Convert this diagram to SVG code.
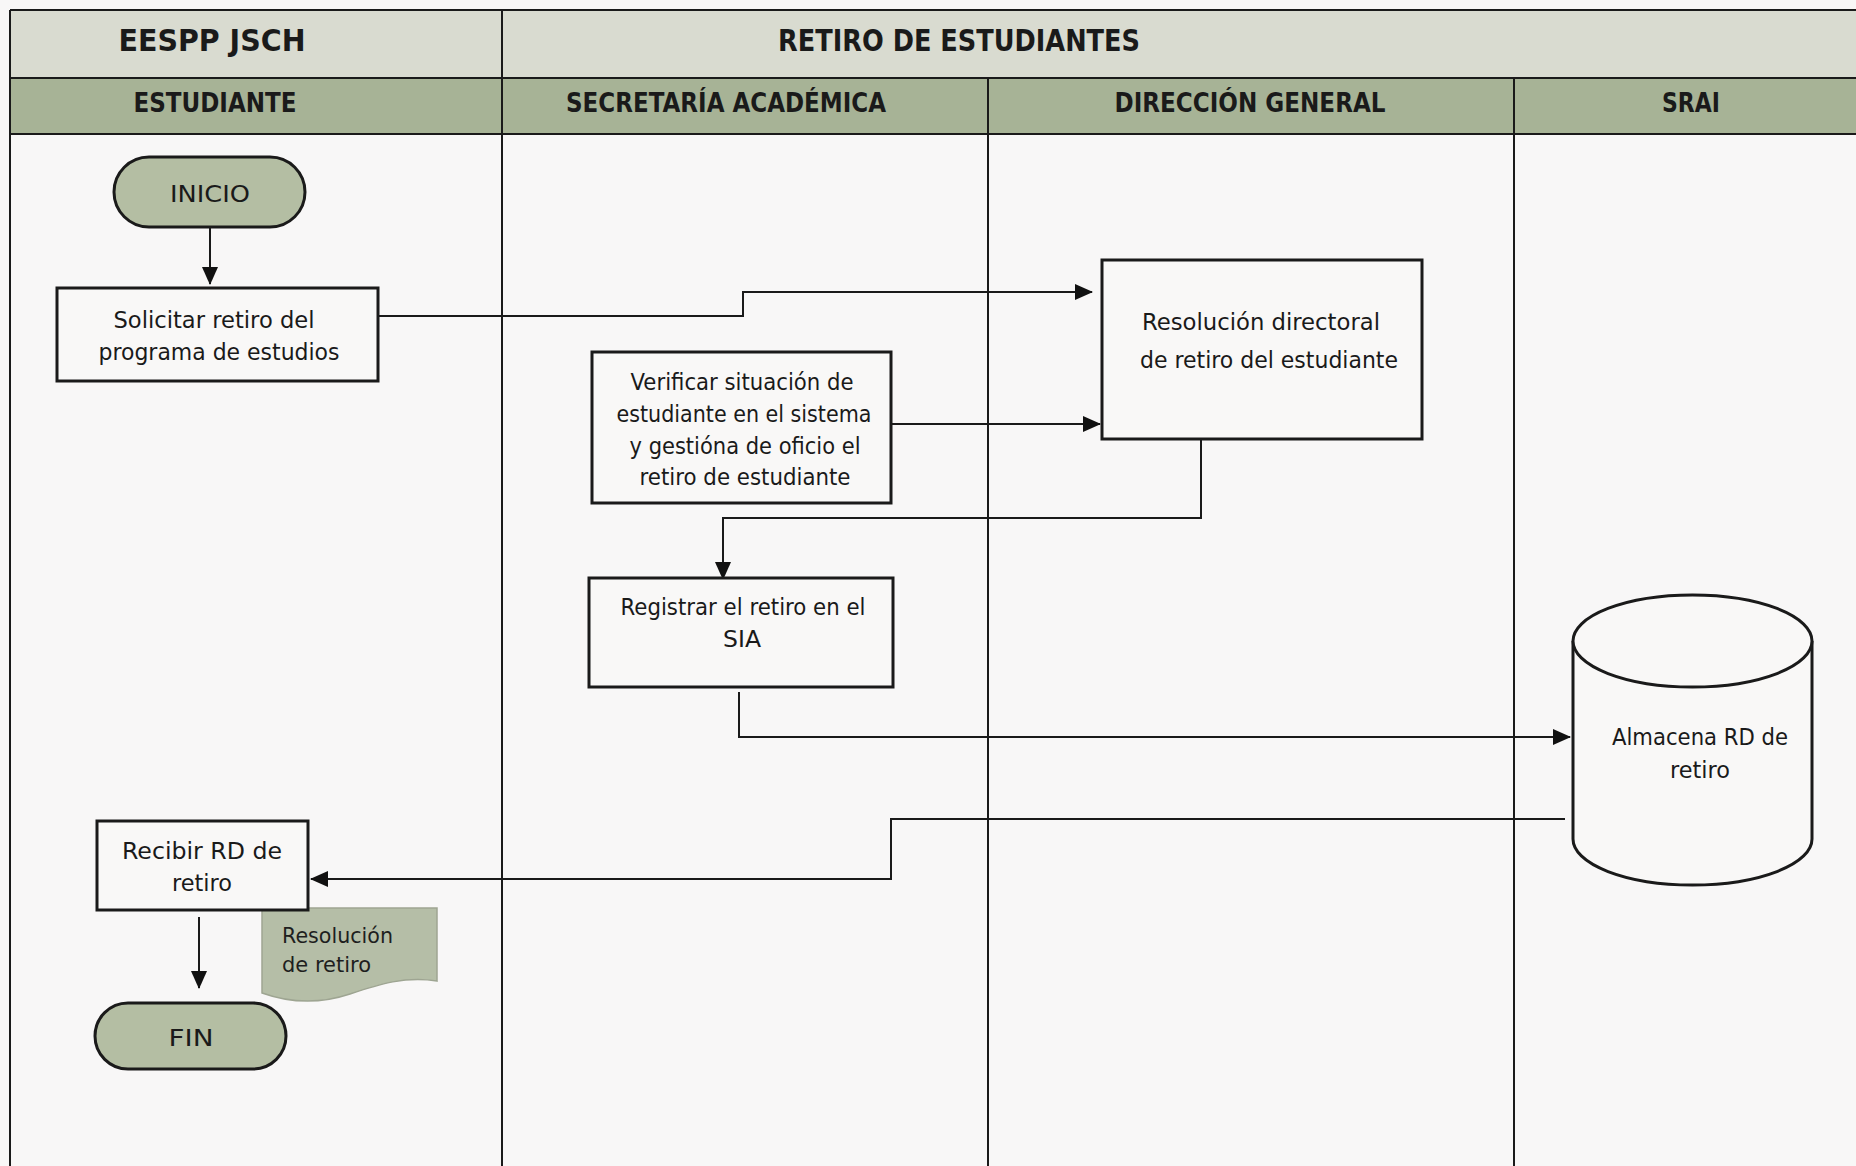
<svg xmlns="http://www.w3.org/2000/svg" width="1856" height="1166" viewBox="0 0 1856 1166">
<defs>
<marker id="ah" markerWidth="18" markerHeight="16" refX="17" refY="8" orient="auto" markerUnits="userSpaceOnUse">
<path d="M0,0 L18,8 L0,16 Z" fill="#111"/>
</marker>
<style>
.hd1{font-family:"DejaVu Sans",sans-serif;font-weight:bold;font-size:30px;fill:#1a1a1a;text-anchor:middle}
.hd2{font-family:"DejaVu Sans",sans-serif;font-weight:bold;font-size:27px;fill:#1a1a1a;text-anchor:middle}
.t{font-family:"DejaVu Sans",sans-serif;font-size:23px;fill:#1a1a1a;text-anchor:middle}
.doc{font-family:"DejaVu Sans",sans-serif;font-size:21px;fill:#1e1e1e}
.box{fill:#f9f8f7;stroke:#1a1a1a;stroke-width:3}
.term{fill:#b4bea3;stroke:#1a1a1a;stroke-width:3}
.lane{stroke:#1a1a1a;stroke-width:2;fill:none}
.c{stroke:#1a1a1a;stroke-width:2;fill:none}
</style>
</defs>
<rect x="0" y="0" width="1856" height="1166" fill="#f8f7f7"/>
<g id="lanes">
<rect x="10" y="10" width="1856" height="68" fill="#d9dbd0"/>
<rect x="10" y="78" width="1856" height="56" fill="#a7b396"/>
<line class="lane" x1="10" y1="10" x2="1856" y2="10" stroke-width="3"/>
<line class="lane" x1="10" y1="10" x2="10" y2="1166" stroke-width="3"/>
<line class="lane" x1="10" y1="78" x2="1856" y2="78" stroke-width="3"/>
<line class="lane" x1="10" y1="134" x2="1856" y2="134" stroke-width="3"/>
<line class="lane" x1="502" y1="10" x2="502" y2="1166"/>
<line class="lane" x1="988" y1="78" x2="988" y2="1166"/>
<line class="lane" x1="1514" y1="78" x2="1514" y2="1166"/>
<text class="hd1" x="212" y="51" textLength="187" lengthAdjust="spacingAndGlyphs">EESPP JSCH</text>
<text class="hd1" x="959" y="51" textLength="362" lengthAdjust="spacingAndGlyphs">RETIRO DE ESTUDIANTES</text>
<text class="hd2" x="215" y="112" textLength="163" lengthAdjust="spacingAndGlyphs">ESTUDIANTE</text>
<text class="hd2" x="726" y="112" textLength="320" lengthAdjust="spacingAndGlyphs">SECRETARÍA ACADÉMICA</text>
<text class="hd2" x="1250" y="112" textLength="271" lengthAdjust="spacingAndGlyphs">DIRECCIÓN GENERAL</text>
<text class="hd2" x="1691" y="112" textLength="58" lengthAdjust="spacingAndGlyphs">SRAI</text>
</g>
<g id="connectors">
<path class="c" d="M210,227 V284" marker-end="url(#ah)"/>
<path class="c" d="M378,316 H743 V292 H1092" marker-end="url(#ah)"/>
<path class="c" d="M891,424 H1100" marker-end="url(#ah)"/>
<path class="c" d="M1201,439 V518 H723 V579" marker-end="url(#ah)"/>
<path class="c" d="M739,692 V737 H1570" marker-end="url(#ah)"/>
<path class="c" d="M1565,819 H891 V879 H311" marker-end="url(#ah)"/>
<path class="c" d="M199,917 V988" marker-end="url(#ah)"/>
</g>
<g id="inicio">
<rect class="term" x="114" y="157" width="191" height="70" rx="35"/>
<text class="t" x="210" y="202" font-size="27" textLength="80" lengthAdjust="spacingAndGlyphs">INICIO</text>
</g>
<g id="solicitar">
<rect class="box" x="57" y="288" width="321" height="93"/>
<text class="t" x="214" y="328" textLength="201" lengthAdjust="spacingAndGlyphs">Solicitar retiro del</text>
<text class="t" x="219" y="360" textLength="241" lengthAdjust="spacingAndGlyphs">programa de estudios</text>
</g>
<g id="verificar">
<rect class="box" x="592" y="352" width="299" height="151"/>
<text class="t" x="742" y="390" textLength="223" lengthAdjust="spacingAndGlyphs">Verificar situación de</text>
<text class="t" x="744" y="422" textLength="255" lengthAdjust="spacingAndGlyphs">estudiante en el sistema</text>
<text class="t" x="745" y="454" textLength="231" lengthAdjust="spacingAndGlyphs">y gestióna de oficio el</text>
<text class="t" x="745" y="485" textLength="211" lengthAdjust="spacingAndGlyphs">retiro de estudiante</text>
</g>
<g id="resolucion">
<rect class="box" x="1102" y="260" width="320" height="179"/>
<text class="t" x="1261" y="330" textLength="238" lengthAdjust="spacingAndGlyphs">Resolución directoral</text>
<text class="t" x="1269" y="368" textLength="258" lengthAdjust="spacingAndGlyphs">de retiro del estudiante</text>
</g>
<g id="registrar">
<rect class="box" x="589" y="578" width="304" height="109"/>
<text class="t" x="743" y="615" textLength="245" lengthAdjust="spacingAndGlyphs">Registrar el retiro en el</text>
<text class="t" x="742" y="647" textLength="38" lengthAdjust="spacingAndGlyphs">SIA</text>
</g>
<g id="almacena">
<path d="M1573,641 V839 A119.5,46 0 0 0 1812,839 V641" fill="#f9f8f7" stroke="#1a1a1a" stroke-width="3"/>
<ellipse cx="1692.5" cy="641" rx="119.5" ry="46" fill="#f9f8f7" stroke="#1a1a1a" stroke-width="3"/>
<text class="t" x="1700" y="745" textLength="176" lengthAdjust="spacingAndGlyphs">Almacena RD de</text>
<text class="t" x="1700" y="778" textLength="60" lengthAdjust="spacingAndGlyphs">retiro</text>
</g>
<g id="documento">
<path d="M262,908 H437 V981 C405,976 380,984 350,994 C320,1004 290,1003 262,993 Z" fill="#b5bea7" stroke="#9ea592" stroke-width="1.5"/>
<text class="doc" x="282" y="943" textLength="111" lengthAdjust="spacingAndGlyphs">Resolución</text>
<text class="doc" x="282" y="972" textLength="89" lengthAdjust="spacingAndGlyphs">de retiro</text>
</g>
<g id="recibir">
<rect class="box" x="97" y="821" width="211" height="89"/>
<text class="t" x="202" y="859" textLength="160" lengthAdjust="spacingAndGlyphs">Recibir RD de</text>
<text class="t" x="202" y="891" textLength="60" lengthAdjust="spacingAndGlyphs">retiro</text>
</g>
<g id="fin">
<rect class="term" x="95" y="1003" width="191" height="66" rx="33"/>
<text class="t" x="191" y="1046" font-size="28" textLength="45" lengthAdjust="spacingAndGlyphs">FIN</text>
</g>
</svg>
